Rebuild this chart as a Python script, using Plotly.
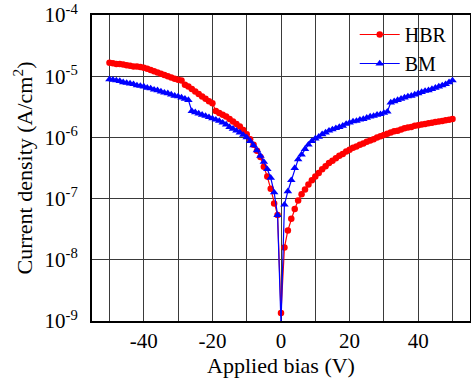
import numpy as np
import plotly.graph_objects as go

# Applied bias (V)
bias_v = list(range(-50, 51))

# log10 of current density (A/cm^2)
hbr_log_j = [
    -4.78, -4.79, -4.80, -4.80, -4.81, -4.82, -4.83, -4.84, -4.84, -4.85,   # -50..-41
    -4.86, -4.88, -4.90, -4.92, -4.94, -4.96, -4.98, -5.00, -5.02, -5.04,   # -40..-31
    -5.06, -5.07, -5.14, -5.17, -5.21, -5.25, -5.29, -5.33, -5.37, -5.41,   # -30..-21
    -5.44, -5.57, -5.60, -5.63, -5.66, -5.70, -5.74, -5.78, -5.82, -5.88,   # -20..-11
    -5.95, -6.03, -6.12, -6.22, -6.32, -6.48, -6.64, -6.84, -7.08, -7.27,   # -10..-1
    -8.87,                                                                  # 0
    -7.80, -7.52, -7.33, -7.17, -7.03, -6.93, -6.85, -6.77, -6.70, -6.64,   # 1..10
    -6.58, -6.52, -6.47, -6.42, -6.38, -6.34, -6.30, -6.27, -6.23, -6.20,   # 11..20
    -6.17, -6.15, -6.12, -6.10, -6.07, -6.05, -6.03, -6.00, -5.98, -5.96,   # 21..30
    -5.94, -5.92, -5.90, -5.89, -5.87, -5.85, -5.84, -5.83, -5.81, -5.80,   # 31..40
    -5.79, -5.78, -5.77, -5.76, -5.75, -5.74, -5.73, -5.72, -5.71, -5.70,   # 41..50
]

bm_log_j = [
    -5.05, -5.06, -5.07, -5.08, -5.10, -5.11, -5.12, -5.13, -5.15, -5.16,   # -50..-41
    -5.17, -5.19, -5.20, -5.22, -5.23, -5.25, -5.27, -5.28, -5.30, -5.32,   # -40..-31
    -5.33, -5.35, -5.37, -5.39, -5.57, -5.59, -5.61, -5.63, -5.65, -5.67,   # -30..-21
    -5.69, -5.71, -5.73, -5.76, -5.79, -5.83, -5.86, -5.89, -5.92, -5.96,   # -20..-11
    -6.00, -6.06, -6.13, -6.21, -6.30, -6.40, -6.52, -6.66, -6.90, -7.27,   # -10..-1
    -9.05,                                                                  # 0
    -7.10, -6.88, -6.70, -6.50, -6.36, -6.28, -6.19, -6.12, -6.06, -6.02,   # 1..10
    -5.99, -5.95, -5.92, -5.89, -5.87, -5.85, -5.83, -5.81, -5.78, -5.76,   # 11..20
    -5.74, -5.73, -5.71, -5.70, -5.68, -5.66, -5.65, -5.63, -5.62, -5.60,   # 21..30
    -5.58, -5.43, -5.41, -5.39, -5.37, -5.35, -5.33, -5.32, -5.30, -5.28,   # 31..40
    -5.26, -5.24, -5.23, -5.21, -5.19, -5.17, -5.15, -5.13, -5.10, -5.07,   # 41..50
]

series_names = ["HBR", "BM"]

x_tick_vals = [-40, -20, 0, 20, 40]
x_tick_text = ["-40", "-20", "0", "20", "40"]
x_minor_grid_vals = [-50, -30, -10, 10, 30, 50]
y_tick_vals = [1e-9, 1e-8, 1e-7, 1e-6, 1e-5, 1e-4]
y_tick_text = ["10<sup>-9</sup>", "10<sup>-8</sup>", "10<sup>-7</sup>",
               "10<sup>-6</sup>", "10<sup>-5</sup>", "10<sup>-4</sup>"]

hbr_j = 10.0 ** np.array(hbr_log_j)
bm_j = 10.0 ** np.array(bm_log_j)

FONT = "Liberation Serif, Times New Roman, Times, serif"
GRID = "#3a3a3a"

fig = go.Figure()
fig.add_trace(go.Scatter(
    x=bias_v, y=hbr_j, name=series_names[0], mode="lines+markers",
    line=dict(color="#ff0000", width=1.2),
    marker=dict(symbol="circle", size=6.5, color="#ff0000"),
))
fig.add_trace(go.Scatter(
    x=bias_v, y=bm_j, name=series_names[1], mode="lines+markers",
    line=dict(color="#0000ff", width=1.2),
    marker=dict(symbol="triangle-up", size=7.5, color="#0000ff"),
))

fig.update_layout(
    width=471, height=385,
    margin=dict(l=92, r=1, t=15, b=64, autoexpand=False),
    paper_bgcolor="white", plot_bgcolor="white",
    font=dict(family=FONT, color="black", size=21),
    legend=dict(x=0.695, y=1.0, xanchor="left", yanchor="top",
                bgcolor="rgba(0,0,0,0)", font=dict(size=20, family=FONT),
                tracegroupgap=0, itemwidth=40),
    showlegend=True,
)
fig.update_xaxes(
    range=[-55.1, 55.1], tickvals=x_tick_vals, ticktext=x_tick_text,
    showgrid=True, gridcolor=GRID, gridwidth=1,
    minor=dict(tickvals=x_minor_grid_vals, showgrid=True, gridcolor=GRID, gridwidth=1, ticks=""),
    showline=True, linecolor="black", linewidth=2, mirror=True,
    ticks="", zeroline=False,
    tickfont=dict(size=21, family=FONT),
    title=dict(text="Applied bias (V)", font=dict(size=22, family=FONT), standoff=4),
)
fig.update_yaxes(
    type="log", range=[-9, -4], tickvals=y_tick_vals, ticktext=y_tick_text,
    showgrid=True, gridcolor=GRID, gridwidth=1,
    showline=True, linecolor="black", linewidth=2, mirror=True,
    ticks="", zeroline=False, ticklabelstandoff=8,
    tickfont=dict(size=21, family=FONT),
    title=dict(text="Current density (A/cm<sup>2</sup>)", font=dict(size=22, family=FONT), standoff=6),
)

fig.write_html("out.html", config={"displayModeBar": False},
               post_script="document.body.style.margin='0';")
